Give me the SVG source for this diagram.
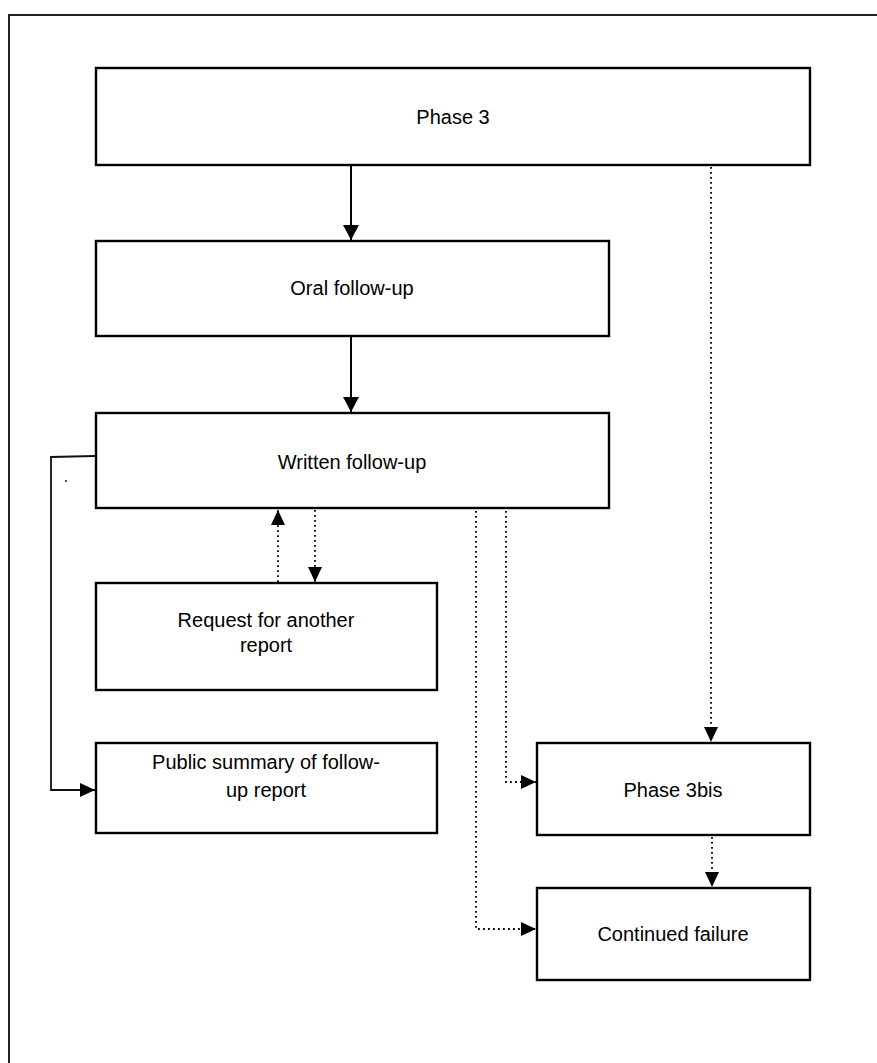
<svg xmlns="http://www.w3.org/2000/svg" width="877" height="1063" viewBox="0 0 877 1063">
<style>
.box{fill:#fff;stroke:#000;stroke-width:2.4}
.t{font-family:"Liberation Sans",Arial,sans-serif;font-size:20px;fill:#000;text-anchor:middle}
.solid{fill:none;stroke:#000;stroke-width:2}
.thin{fill:none;stroke:#111;stroke-width:1.8}
.dot{fill:none;stroke:#000;stroke-width:1.8;stroke-dasharray:1.8 3.2}
</style>
<defs>
<marker id="ah" markerUnits="userSpaceOnUse" markerWidth="16" markerHeight="16" viewBox="0 0 16 16" refX="15" refY="8" orient="auto">
<path d="M0,0 L15,8 L0,16 Z" fill="#000"/>
</marker>
<marker id="ahs" markerUnits="userSpaceOnUse" markerWidth="15" markerHeight="14" viewBox="0 0 15 14" refX="15" refY="7" orient="auto">
<path d="M0,0 L15,7 L0,14 Z" fill="#000"/>
</marker>
</defs>
<rect x="0" y="0" width="877" height="1063" fill="#fff"/>
<path d="M9,1063 L9,15 L877,15" fill="none" stroke="#222" stroke-width="2"/>
<g id="phase3"><rect class="box" x="96" y="68" width="714" height="97"/><text class="t" x="453" y="124">Phase 3</text></g>
<g id="oral"><rect class="box" x="96" y="241" width="513" height="95"/><text class="t" x="352" y="295">Oral follow-up</text></g>
<g id="written"><rect class="box" x="96" y="413" width="513" height="95"/><text class="t" x="352" y="469">Written follow-up</text></g>
<g id="request"><rect class="box" x="96" y="583" width="341" height="107"/><text class="t" x="266" y="627">Request for another</text><text class="t" x="266" y="652">report</text></g>
<g id="public"><rect class="box" x="96" y="743" width="341" height="90"/><text class="t" x="266" y="769">Public summary of follow-</text><text class="t" x="266" y="797">up report</text></g>
<g id="phase3bis"><rect class="box" x="537" y="743" width="273" height="92"/><text class="t" x="673" y="797">Phase 3bis</text></g>
<g id="continued"><rect class="box" x="537" y="888" width="273" height="92"/><text class="t" x="673" y="941">Continued failure</text></g>
<g id="connectors">
<path class="solid" d="M351,166 L351,240" marker-end="url(#ah)"/>
<path class="solid" d="M351,337 L351,412" marker-end="url(#ah)"/>
<path class="thin" d="M95,456 L51,457 L51,790 L95,790" marker-end="url(#ahs)"/>
<path class="dot" d="M278,582 L278,510" marker-end="url(#ahs)"/>
<path class="dot" d="M315,510 L315,582" marker-end="url(#ahs)"/>
<path class="dot" d="M711,167 L711,742" marker-end="url(#ahs)"/>
<path class="dot" d="M506,511 L506,782 L536,782" marker-end="url(#ahs)"/>
<path class="dot" d="M476,511 L476,929 L536,929" marker-end="url(#ahs)"/>
<path class="dot" d="M712,837 L712,887" marker-end="url(#ahs)"/>
</g>
<circle cx="66" cy="481" r="0.9" fill="#000"/>
</svg>
